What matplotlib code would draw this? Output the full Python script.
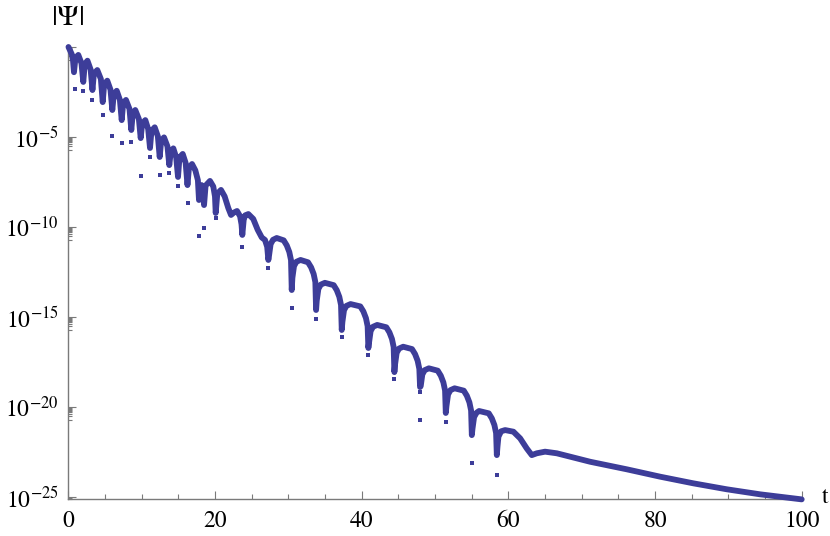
import numpy as np
import matplotlib
matplotlib.use("Agg")
import matplotlib.pyplot as plt
from matplotlib.ticker import NullFormatter

# =============================================================================
# datos: t y log10|Psi|
# =============================================================================
t_curve = [
    0.0, 0.45, 0.62, 0.75,
    0.95, 1.34, 1.77, 2.02,
    2.22, 2.59, 3.02, 3.27,
    3.47, 3.93, 4.42, 4.67,
    4.87, 5.29, 5.73, 5.98,
    6.18, 6.58, 7.01, 7.26,
    7.46, 7.84, 8.32, 8.57,
    8.77, 9.11, 9.60, 9.85,
    10.05, 10.48, 10.87, 11.12,
    11.32, 11.76, 12.19, 12.44,
    12.64, 13.03, 13.50, 13.75,
    13.95, 14.30, 14.69, 14.94,
    15.14, 15.58, 15.98, 16.23,
    16.43, 16.85, 17.30, 17.65, 17.80,
    17.95, 18.15, 18.35, 18.49,
    18.70, 19.30, 19.75, 19.98, 20.08,
    20.30, 20.80, 21.30, 21.80, 22.17, 22.55, 22.99, 23.40, 23.60, 23.71,
    23.90, 24.10, 24.53, 25.20, 25.80, 26.36, 26.80, 27.10, 27.26,
    27.35, 27.57, 27.90, 28.40, 29.35, 29.77, 30.12, 30.35, 30.45,
    30.54, 30.76, 31.09, 31.65, 32.67, 33.09, 33.44, 33.67, 33.77,
    33.86, 34.08, 34.41, 34.97, 36.17, 36.59, 36.94, 37.17, 37.27,
    37.36, 37.58, 37.91, 38.47, 39.80, 40.22, 40.57, 40.80, 40.90,
    40.99, 41.21, 41.54, 42.10, 43.35, 43.77, 44.12, 44.35, 44.45,
    44.54, 44.76, 45.09, 45.65, 46.85, 47.27, 47.62, 47.85, 47.95,
    48.04, 48.26, 48.59, 49.15, 50.36, 50.78, 51.13, 51.36, 51.46,
    51.55, 51.77, 52.10, 52.66, 53.91, 54.33, 54.68, 54.91, 55.01,
    55.10, 55.32, 55.65, 56.00, 57.32, 57.74, 58.09, 58.32, 58.42,
    58.51, 58.64, 59.00, 59.55, 60.68, 61.60, 62.50, 63.19, 63.87, 65.00,
    66.60, 68.42, 71.15, 76.15, 80.70, 85.24, 89.79, 94.34, 100.0,
]
log_curve = [
    0.0, -0.40, -0.75, -1.40,
    -0.62, -0.44, -0.90, -1.94,
    -0.95, -0.76, -1.25, -2.39,
    -1.48, -1.28, -1.78, -3.06,
    -2.07, -1.87, -2.37, -3.50,
    -2.63, -2.43, -2.93, -4.06,
    -3.14, -2.94, -3.44, -4.61,
    -3.70, -3.50, -4.00, -5.06,
    -4.26, -4.06, -4.56, -5.61,
    -4.66, -4.46, -4.96, -6.11,
    -5.22, -5.02, -5.52, -6.56,
    -5.83, -5.63, -6.13, -7.22,
    -6.14, -5.94, -6.44, -7.67,
    -6.72, -6.50, -6.85, -7.40, -8.50,
    -7.85, -7.67, -7.95, -8.78,
    -7.70, -7.44, -7.75, -8.30, -9.22,
    -8.15, -7.94, -8.30, -8.95, -9.33, -9.20, -9.11, -9.40, -9.85, -10.44,
    -9.60, -9.35, -9.28, -9.55, -10.15, -10.58, -10.72, -11.10, -11.83,
    -11.60, -10.95, -10.71, -10.61, -10.74, -11.02, -11.39, -11.84, -13.50,
    -12.82, -12.17, -11.93, -11.83, -11.96, -12.24, -12.61, -13.06, -14.61,
    -14.09, -13.44, -13.20, -13.10, -13.23, -13.51, -13.88, -14.33, -15.72,
    -15.27, -14.62, -14.38, -14.28, -14.41, -14.69, -15.06, -15.51, -16.72,
    -16.43, -15.78, -15.54, -15.44, -15.57, -15.85, -16.22, -16.67, -18.06,
    -17.64, -16.99, -16.75, -16.65, -16.78, -17.06, -17.43, -17.88, -18.89,
    -18.84, -18.19, -17.95, -17.85, -17.98, -18.26, -18.63, -19.08, -20.33,
    -19.95, -19.30, -19.06, -18.96, -19.09, -19.37, -19.74, -20.19, -21.56,
    -21.21, -20.56, -20.32, -20.22, -20.35, -20.63, -21.00, -21.45, -22.67,
    -22.20, -21.65, -21.35, -21.28, -21.37, -21.74, -22.30, -22.67, -22.57, -22.48,
    -22.57, -22.76, -23.04, -23.46, -23.87, -24.24, -24.57, -24.85, -25.13,
]

# puntos sueltos debajo de las cuspides
t_dots = [0.85, 1.98, 3.25, 4.67, 5.98, 7.26, 8.57, 9.85, 11.12, 12.48,
          13.75, 14.91, 16.30, 17.74, 18.49, 20.08, 23.71, 27.26, 30.45,
          33.77, 37.27, 40.90, 44.45, 47.95, 47.95, 51.46, 55.01, 58.42]
log_dots = [-2.35, -2.43, -2.92, -3.78, -4.94, -5.35, -5.26, -7.14, -6.09,
            -7.11, -7.02, -7.72, -8.68, -10.50, -10.07, -9.52, -11.13,
            -12.29, -14.52, -15.09, -16.09, -17.11, -18.44, -19.15, -20.72,
            -20.85, -23.13, -23.78]

x_major = [0, 20, 40, 60, 80, 100]
x_minor = [5, 10, 15, 25, 30, 35, 45, 50, 55, 65, 70, 75, 85, 90, 95]
y_major_exp = [0, -5, -10, -15, -20, -25]
y_labels = ["", r"$10^{-5}$", r"$10^{-10}$", r"$10^{-15}$", r"$10^{-20}$", r"$10^{-25}$"]

# =============================================================================
# grafico
# =============================================================================
plt.rcParams["font.family"] = ["STIXGeneral", "DejaVu Serif"]
plt.rcParams["mathtext.fontset"] = "stix"

azul = "#3d3d99"
gris = "#7a7a7a"

fig = plt.figure(figsize=(8.30, 5.36), dpi=100)
ax = fig.add_axes([0.0825, 0.069, 0.8834, 0.847])

psi = 10.0 ** np.array(log_curve)
ax.plot(t_curve, psi, color=azul, lw=4.2, solid_joinstyle="round",
        solid_capstyle="round", clip_on=False, zorder=3)
ax.plot(t_dots, 10.0 ** np.array(log_dots), "s", ms=2.5, mew=0,
        color=azul, zorder=3)

ax.set_yscale("log")

ax.set_xticks(x_major)
ax.set_xticklabels([str(v) for v in x_major])
ax.set_xticks(x_minor, minor=True)

ymaj = [10.0 ** e for e in y_major_exp]
ymin = [k * 10.0 ** (e - 1) for e in y_major_exp for k in range(2, 10)]
ax.set_yticks(ymaj)
ax.set_yticklabels(y_labels)
ax.set_yticks(ymin, minor=True)
ax.yaxis.set_minor_formatter(NullFormatter())

# los limites despues de los ticks, si no set_yticks los agranda
ax.set_xlim(0, 100)
ax.set_ylim(10 ** -25.11, 10 ** 0.11)

for s in ["top", "right"]:
    ax.spines[s].set_visible(False)
for s in ["left", "bottom"]:
    ax.spines[s].set_color(gris)
    ax.spines[s].set_linewidth(1.0)

ax.tick_params(axis="both", which="both", direction="in", color=gris,
               width=0.8, labelsize=17)
ax.tick_params(axis="x", which="major", length=6, pad=8)
ax.tick_params(axis="x", which="minor", length=3.5)
ax.tick_params(axis="y", which="major", length=6, pad=7)
ax.tick_params(axis="y", which="minor", length=3)

fig.text(0.0813, 0.965, r"$|\Psi|$", ha="center", va="center", fontsize=21)
fig.text(0.9945, 0.072, "t", ha="center", va="center", fontsize=17)

fig.savefig("out.png", dpi=100)
